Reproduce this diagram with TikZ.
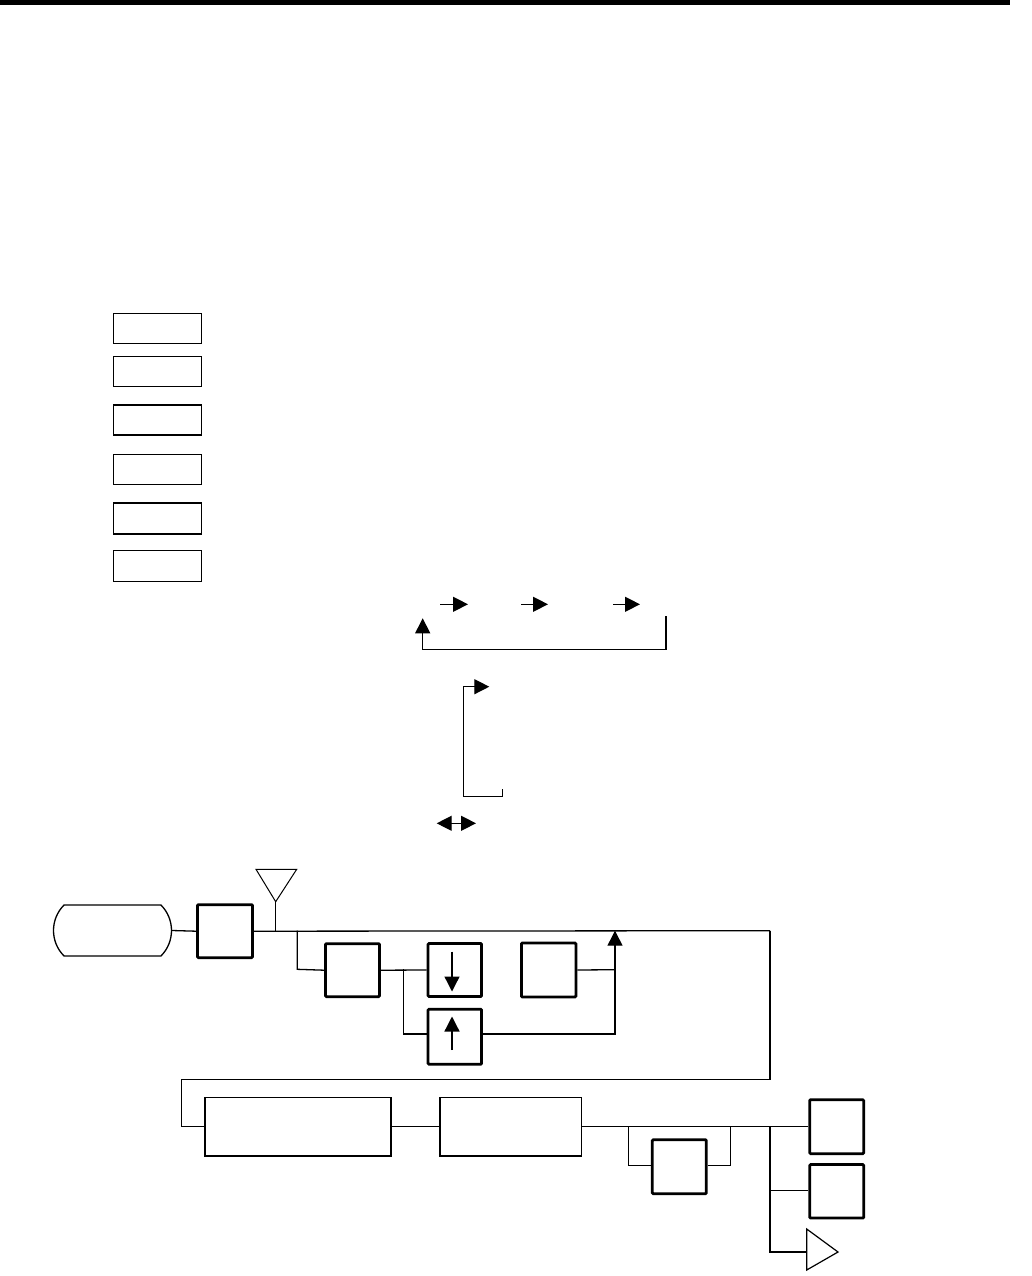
\documentclass[tikz,border=0pt]{standalone}
\usetikzlibrary{arrows.meta,shapes.misc}
\begin{document}
\begin{tikzpicture}[x=1pt,y=-1pt,
 legendbox/.style={draw,line width=1.6pt,minimum width=88pt,minimum height=30pt,inner sep=0pt},
 thickbox/.style={draw,line width=2.8pt,inner sep=0pt,rounded corners=1pt},
 thinbox/.style={draw,line width=1.6pt,inner sep=0pt},
 conn/.style={line width=1.3pt},
 tipend/.style={-{Triangle[length=15pt,width=15pt]}},
 tipboth/.style={{Triangle[length=15pt,width=15pt]}-{Triangle[length=15pt,width=15pt]}},
]
\useasboundingbox (0,0) rectangle (1031,1276);
\fill (0,0) rectangle (1010,5);

% legend boxes
\node[legendbox] (l1) at (157.4,328.4) {};
\node[legendbox] (l2) at (157.4,371.4) {};
\node[legendbox] (l3) at (157.4,420.2) {};
\node[legendbox] (l4) at (157.4,469.4) {};
\node[legendbox,minimum height=31pt] (l5) at (157.4,518.7) {};
\node[legendbox,minimum height=31pt] (l6) at (157.4,565.8) {};

% legend arrows
\coordinate (a1s) at (440,604.3); \coordinate (a1e) at (468,604.3);
\coordinate (a2s) at (521,604.3); \coordinate (a2e) at (548,604.3);
\coordinate (a3s) at (613,604.3); \coordinate (a3e) at (640,604.3);
\draw[conn,tipend] (a1s) -- (a1e);
\draw[conn,tipend] (a2s) -- (a2e);
\draw[conn,tipend] (a3s) -- (a3e);

\coordinate (lp1) at (666,616); \coordinate (lp2) at (422.7,618.3);
\draw[conn,tipend] (lp1) -- (666,649.3) -- (422.7,649.3) -- (lp2);

\coordinate (br1) at (502.7,789.3); \coordinate (br2) at (489.3,686.7);
\draw[conn,tipend] (br1) -- (502.7,796.7) -- (463.7,796.7) -- (463.7,686.7) -- (br2);

\coordinate (d1) at (436.7,823.3); \coordinate (d2) at (476,823.3);
\draw[conn,tipboth] (d1) -- (d2);

% flow: top part
\node[draw,line width=1.3pt,rounded rectangle,rounded rectangle arc length=90,
      minimum width=118pt,minimum height=51pt,inner sep=0pt] (term) at (112.5,930.5) {};
\node[thickbox,minimum width=55pt,minimum height=53pt] (b1) at (225,931.2) {};
\node[thickbox,minimum width=54pt,minimum height=53pt] (b2) at (352.5,970.2) {};
\node[thickbox,minimum width=53.5pt,minimum height=53pt] (b3) at (454.8,970) {};
\node[thickbox,minimum width=53.5pt,minimum height=55pt] (b4) at (454.8,1036.7) {};
\node[thickbox,minimum width=54.5pt,minimum height=54pt] (b5) at (548.7,970) {};

\coordinate (ant) at (275.7,930.7);
\coordinate (anttip) at (275.7,901.7);
\coordinate (antl) at (256,869.3);
\coordinate (antr) at (296.7,869.3);
\draw[line width=1pt] (ant) -- (anttip);
\draw[line width=1pt,line join=miter] (antl) -- (antr) -- (anttip) -- cycle;

\coordinate (mainR) at (770,930.7);
\coordinate (ret) at (615,930.7);
\draw[conn] (term.east) -- (b1.west);
\draw[conn] (b1.east) -- (mainR);
\draw[conn] (297.3,930.7) -- (297.3,969.3) -- (b2.west);
\draw[conn] (b2.east) -- (b3.west);
\draw[conn] (403.3,969.3) -- (403.3,1034) -- (426.7,1034);
\draw[conn,tipend] (b4.east |- 0,1034) -- (615,1034) -- (ret);
\draw[conn] (b5.east) -- (615,969.7);

% inner arrows
\coordinate (dnS) at (452,951.7); \coordinate (dnE) at (452,991.5);
\coordinate (upS) at (452,1050); \coordinate (upE) at (452,1016.5);
\draw[conn,tipend] (dnS) -- (dnE);
\draw[conn,tipend] (upS) -- (upE);

% bottom part
\node[thinbox,minimum width=186pt,minimum height=58.5pt] (b6) at (298.2,1126.7) {};
\node[thinbox,minimum width=141.5pt,minimum height=58.5pt] (b7) at (510.8,1126.7) {};
\node[thickbox,minimum width=54pt,minimum height=54pt] (b8) at (836.7,1126.7) {};
\node[thickbox,minimum width=54pt,minimum height=54pt] (b9) at (679.3,1166.7) {};
\node[thickbox,minimum width=54pt,minimum height=53.5pt] (b10) at (836.7,1191.3) {};

\draw[conn] (mainR) -- (770,1079.3) -- (181.7,1079.3) -- (181.7,1126.7) -- (b6.west);
\draw[conn] (b6.east) -- (b7.west);
\draw[conn] (b7.east) -- (b8.west);
\draw[conn] (628.3,1126.7) -- (628.3,1165.7) -- (b9.west |- 0,1165.7);
\draw[conn] (b9.east |- 0,1165.7) -- (730.7,1165.7) -- (730.7,1126.7);
\coordinate (outtri) at (806.7,1252);
\draw[conn] (770,1126.7) -- (770,1252) -- (outtri);
\draw[conn] (770,1190.7) -- (b10.west |- 0,1190.7);
\draw[line width=1.2pt,line join=miter] (806.7,1229) -- (838,1252) -- (806.7,1270) -- cycle;
\end{tikzpicture}
\end{document}
